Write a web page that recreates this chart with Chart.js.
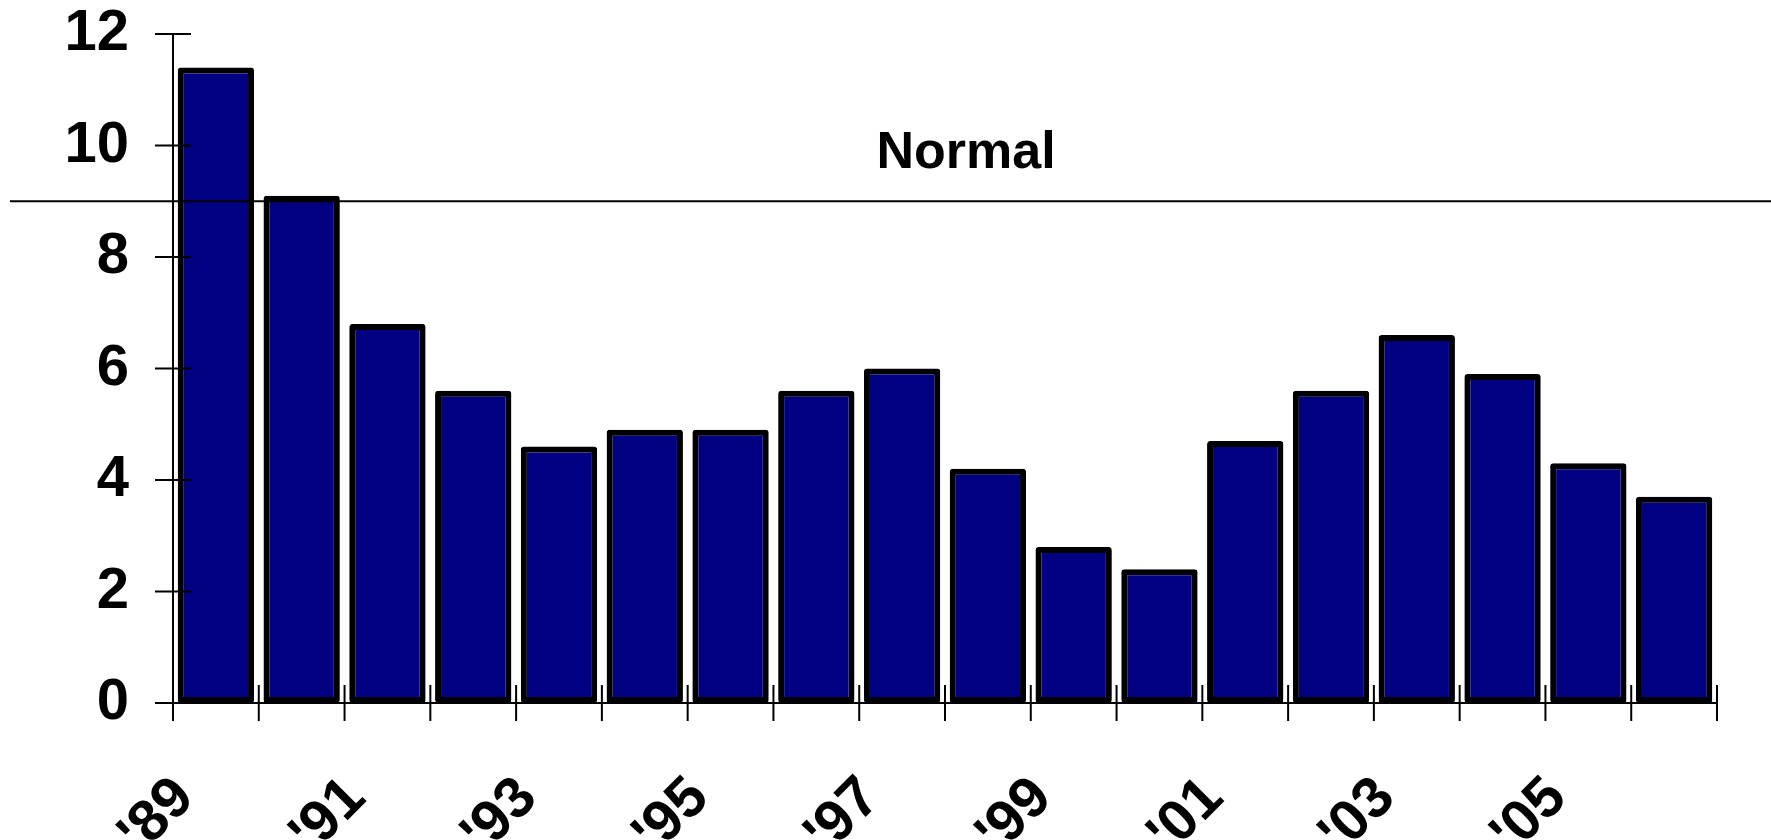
<!DOCTYPE html>
<html><head><meta charset="utf-8">
<script src="https://cdn.jsdelivr.net/npm/chart.js@4.4.1/dist/chart.umd.min.js"></script>
<style>html,body{margin:0;padding:0;background:#fff;overflow:hidden}canvas{display:block}</style>
</head><body>
<canvas id="c" width="1771" height="840"></canvas>
<script>
const years = ['1989','1990','1991','1992','1993','1994','1995','1996','1997','1998','1999','2000','2001','2002','2003','2004','2005','2006'];
const values = [11.4, 9.1, 6.8, 5.6, 4.6, 4.9, 4.9, 5.6, 6.0, 4.2, 2.8, 2.4, 4.7, 5.6, 6.6, 5.9, 4.3, 3.7];
const boundaryLabels = ["'89","","'91","","'93","","'95","","'97","","'99","","'01","","'03","","'05","",""];
const yMin = 0, yMax = 12, yStep = 2;
const normalLevel = 9;
const normalLabel = 'Normal';

const FONT = '"Liberation Sans", Arial, sans-serif';

const noPad = s => { s.paddingLeft = 0; s.paddingRight = 0; s.paddingTop = 0; s.paddingBottom = 0; };

const overlay = {
  id: 'overlay',
  afterDatasetsDraw(chart) {
    const {ctx, chartArea} = chart;
    const y = chart.scales.y, x2 = chart.scales.x2;
    const line = (a, b, c, d) => { ctx.beginPath(); ctx.moveTo(a, b); ctx.lineTo(c, d); ctx.stroke(); };
    ctx.save();
    ctx.strokeStyle = '#000';
    ctx.lineWidth = 2;
    y.ticks.forEach(t => {
      const py = y.getPixelForValue(t.value);
      line(chartArea.left - 18, py, chartArea.left + 18, py);
    });
    x2.ticks.forEach((t, i) => {
      const px = x2.getPixelForTick(i);
      line(px, chartArea.bottom - 18, px, chartArea.bottom + 18);
    });
    const ny = y.getPixelForValue(normalLevel);
    ctx.lineWidth = 1.8;
    line(10, ny, chart.width, ny);
    ctx.fillStyle = '#000';
    ctx.font = 'bold 52px ' + FONT;
    ctx.textAlign = 'center';
    ctx.textBaseline = 'alphabetic';
    ctx.fillText(normalLabel, 966, ny - 33);
    ctx.restore();
  }
};

new Chart(document.getElementById('c'), {
  type: 'bar',
  data: {
    labels: years,
    datasets: [{
      data: values,
      backgroundColor: '#000080',
      borderColor: '#000000',
      borderWidth: 6,
      borderRadius: 3,
      borderSkipped: false,
      barPercentage: 0.89,
      categoryPercentage: 1.0,
      xAxisID: 'x',
      yAxisID: 'y'
    }]
  },
  options: {
    responsive: false,
    animation: false,
    devicePixelRatio: 1,
    layout: { padding: { left: 0, right: 54, top: 34, bottom: 0 } },
    plugins: { legend: { display: false }, tooltip: { enabled: false } },
    scales: {
      x: { type: 'category', display: false, offset: true },
      x2: {
        type: 'category',
        position: 'bottom',
        labels: boundaryLabels,
        offset: false,
        grid: { display: false, drawTicks: false },
        border: { display: true, color: '#000', width: 2 },
        ticks: {
          autoSkip: false,
          maxRotation: 45,
          minRotation: 45,
          padding: 61,
          labelOffset: 12,
          color: '#000',
          font: { family: FONT, size: 58, weight: 'bold' }
        },
        afterFit: s => { s.height = 137; noPad(s); }
      },
      y: {
        min: yMin,
        max: yMax,
        grid: { display: false, drawTicks: false },
        border: { display: true, color: '#000', width: 2 },
        ticks: {
          stepSize: yStep,
          padding: 44,
          color: '#000',
          font: { family: FONT, size: 58, weight: 'bold', lineHeight: 1 }
        },
        afterFit: s => { s.width = 173; noPad(s); }
      }
    }
  },
  plugins: [overlay]
});
</script>
</body></html>
